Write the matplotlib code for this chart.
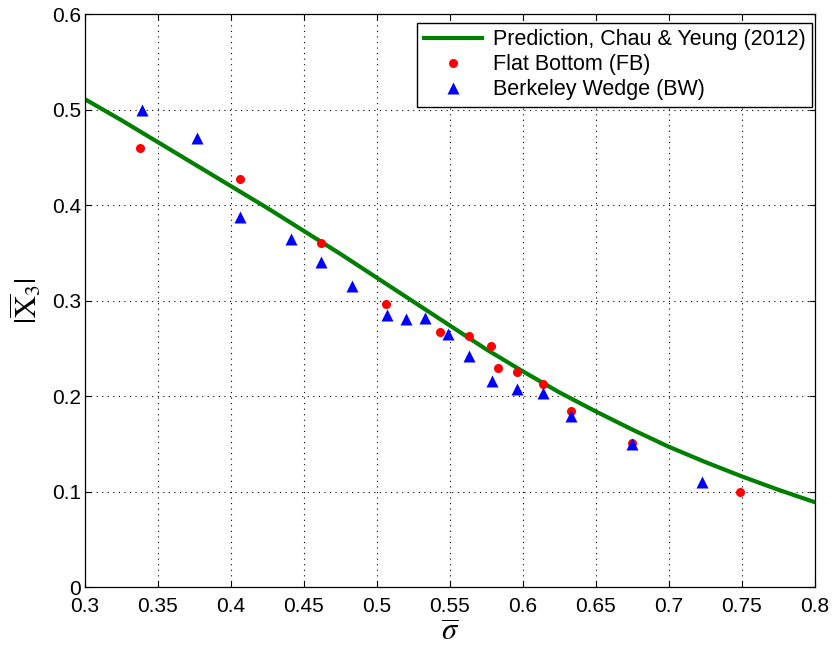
import matplotlib
matplotlib.use("Agg")
import matplotlib.pyplot as plt

# prediction curve, Chau & Yeung (2012)
pred_sigma = [0.300, 0.325, 0.350, 0.375, 0.400, 0.425, 0.450, 0.475, 0.500, 0.525, 0.550,
              0.575, 0.600, 0.625, 0.650, 0.675, 0.700, 0.725, 0.750, 0.775, 0.800]
pred_x3 = [0.511, 0.489, 0.466, 0.443, 0.420, 0.397, 0.373, 0.349, 0.324, 0.299, 0.274,
           0.249, 0.226, 0.204, 0.184, 0.165, 0.147, 0.131, 0.116, 0.102, 0.089]

# flat bottom (FB)
fb_sigma = [0.338, 0.406, 0.462, 0.506, 0.543, 0.563, 0.578, 0.583, 0.596, 0.614, 0.633, 0.675, 0.749]
fb_x3 = [0.460, 0.427, 0.360, 0.297, 0.267, 0.263, 0.252, 0.229, 0.225, 0.213, 0.184, 0.151, 0.100]

# Berkeley wedge (BW)
bw_sigma = [0.339, 0.377, 0.406, 0.441, 0.462, 0.483, 0.507, 0.520, 0.533, 0.549,
            0.563, 0.579, 0.596, 0.614, 0.633, 0.675, 0.723]
bw_x3 = [0.500, 0.470, 0.388, 0.365, 0.340, 0.315, 0.285, 0.281, 0.282, 0.265,
         0.242, 0.216, 0.207, 0.203, 0.179, 0.150, 0.110]

xticks = [0.3, 0.35, 0.4, 0.45, 0.5, 0.55, 0.6, 0.65, 0.7, 0.75, 0.8]
yticks = [0, 0.1, 0.2, 0.3, 0.4, 0.5, 0.6]

plt.rcParams.update({
    "font.family": ["Liberation Sans", "DejaVu Sans"],
    "font.size": 15,
    "mathtext.fontset": "stix",
})

fig = plt.figure(figsize=(8.33, 6.48), dpi=100)
ax = fig.add_axes([0.102, 0.094, 0.876, 0.884])

ax.plot(pred_sigma, pred_x3, color="#007f00", lw=3, label="Prediction, Chau & Yeung (2012)")
ax.plot(fb_sigma, fb_x3, "o", color="red", ms=6.5, mec="none", label="Flat Bottom (FB)")
ax.plot(bw_sigma, bw_x3, "^", color="blue", ms=9, mec="none", label="Berkeley Wedge (BW)")

ax.set_xlim(0.3, 0.8)
ax.set_ylim(0, 0.6)
ax.set_xticks(xticks)
ax.set_yticks(yticks)
ax.set_xticklabels([f"{t:g}" for t in xticks])
ax.set_yticklabels([f"{t:g}" for t in yticks])
ax.tick_params(direction="in", top=True, right=True, length=4, width=0.8)
ax.tick_params(axis="x", pad=7)
ax.tick_params(axis="y", pad=3)
ax.grid(True, linestyle=(0, (1, 4)), color="black", linewidth=0.8)
for sp in ax.spines.values():
    sp.set_linewidth(0.9)

ax.set_xlabel(r"$\overline{\sigma}$", fontsize=22, labelpad=1)
ax.set_ylabel(r"$|\overline{\mathrm{X}}_3|$", fontsize=22, labelpad=6)

leg = ax.legend(loc="upper right", bbox_to_anchor=(0.996, 0.985), borderaxespad=0,
                fontsize=15.5, fancybox=False, edgecolor="black", framealpha=1,
                handlelength=2.7, labelspacing=0.18, borderpad=0.3, handletextpad=0.5)
leg.get_frame().set_linewidth(1.0)

fig.savefig("out.png", dpi=100)
